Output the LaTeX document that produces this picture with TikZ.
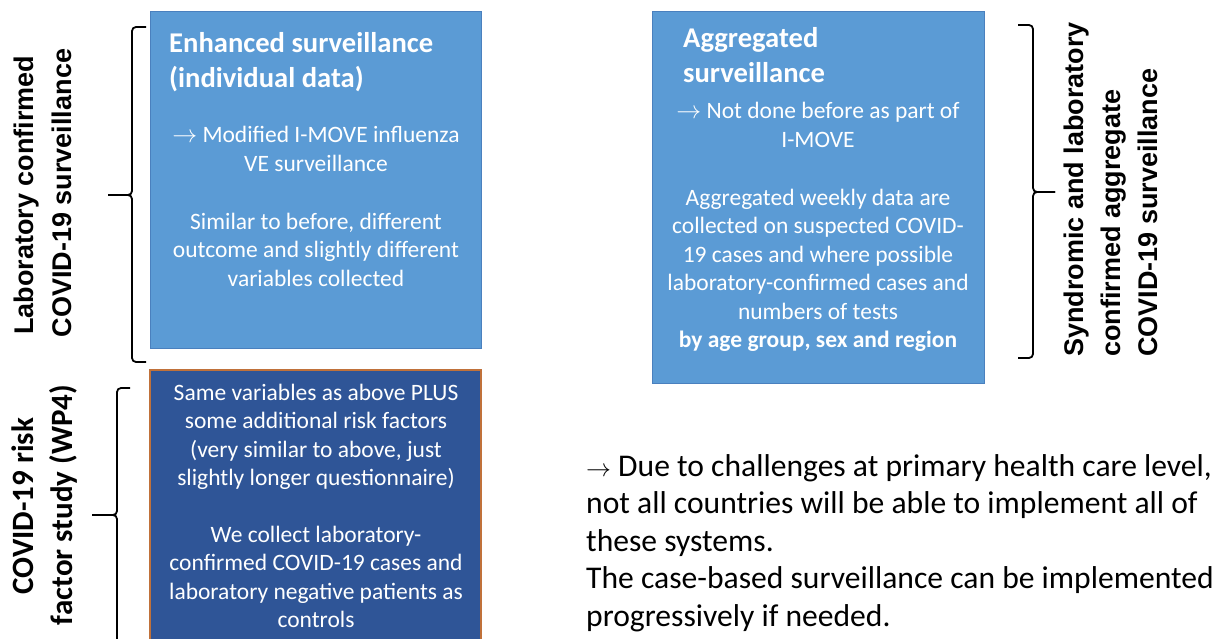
\documentclass[tikz,border=0pt]{standalone}
\usepackage{fontspec}
\setmainfont{Carlito}
\newfontfamily\arialfont{Liberation Sans}
\definecolor{lightbox}{HTML}{5B9BD5}
\definecolor{lightedge}{HTML}{4A80BE}
\definecolor{darkbox}{HTML}{2F5597}
\definecolor{darkedge}{HTML}{C0713A}
\tikzset{
  boxlight/.style={fill=lightbox,draw=lightedge,line width=1pt},
  boxdark/.style={fill=darkbox,draw=darkedge,line width=1.5pt},
  boxtitle/.style={text=white,inner sep=0pt,align=left,font=\fontsize{28.6}{35}\selectfont\bfseries},
  boxbody/.style={text=white,inner sep=0pt,align=center,font=\fontsize{23.5}{28.5}\selectfont},
  sidearial/.style={inner sep=0pt,rotate=90,font=\arialfont\bfseries\fontsize{27}{37.5}\selectfont},
  sidecal/.style={inner sep=0pt,rotate=90,font=\bfseries\fontsize{31}{37.5}\selectfont},
  bracepath/.style={draw=black,line width=1.8pt,rounded corners=4pt},
  note/.style={inner sep=0pt,align=left,font=\fontsize{31.6}{37.5}\selectfont}
}
\begin{document}
\begin{tikzpicture}[x=1pt,y=-1pt]
\useasboundingbox (0,0) rectangle (1222,639);
\clip (0,0) rectangle (1222,639);
\fill[white] (0,0) rectangle (1222,639);

% boxes
\path[boxlight] (150,12) rectangle (481,348);
\path[boxdark] (150,370) rectangle (481,660);
\path[boxlight] (652,12) rectangle (984,383);

% box 1 text (anchor base = baseline of last line)
\node[boxtitle,anchor=base west] (t1) at (169,88) {Enhanced surveillance\\(individual data)};
\node[boxbody,anchor=base] (b1a) at (316,171.5) {$\rightarrow$ Modified I-MOVE influenza\\VE surveillance};
\node[boxbody,anchor=base] (b1b) at (316,286) {Similar to before, different\\outcome and slightly different\\variables collected};

% box 2 text
\node[boxbody,anchor=base] (b2a) at (316,485.5) {Same variables as above PLUS\\some additional risk factors\\(very similar to above, just\\slightly longer questionnaire)};
\node[boxbody,anchor=base] (b2b) at (316,627.5) {We collect laboratory-\\confirmed COVID-19 cases and\\laboratory negative patients as\\controls};

% box 3 text
\node[boxtitle,anchor=base west] (t3) at (683,83) {Aggregated\\surveillance};
\node[boxbody,anchor=base] (b3a) at (818,147.5) {$\rightarrow$ Not done before as part of\\I-MOVE};
\node[boxbody,anchor=base] (b3b) at (818,347.5) {Aggregated weekly data are\\collected on suspected COVID-\\19 cases and where possible\\laboratory-confirmed cases and\\numbers of tests\\\textbf{by age group, sex and region}};

% braces
\draw[bracepath] (146,27) -- (132,27) -- (132,195) -- (108,195);
\draw[bracepath] (108,195) -- (132,195) -- (132,362) -- (146,362);
\draw[bracepath] (130,388) -- (117,388) -- (117,515) -- (92,515);
\draw[bracepath] (92,515) -- (117,515) -- (117,660);
\draw[bracepath] (1018,25) -- (1033,25) -- (1033,192) -- (1055,192);
\draw[bracepath] (1055,192) -- (1033,192) -- (1033,358) -- (1018,358);

% side labels
\node[sidearial,anchor=base] (l1a) at (33,195) {Laboratory confirmed};
\node[sidearial,anchor=base] (l1b) at (71,193) {COVID-19 surveillance};
\node[sidecal,anchor=base] (l2a) at (33,506) {COVID-19 risk};
\node[sidecal,anchor=base] (l2b) at (72,505) {factor study (WP4)};
\node[sidearial,anchor=base west] (r1) at (1083,357) {Syndromic and laboratory};
\node[sidearial,anchor=base west] (r2) at (1120,357) {confirmed aggregate};
\node[sidearial,anchor=base west] (r3) at (1157,357) {COVID-19 surveillance};

% note
\node[note,anchor=base west] (n) at (586,626) {$\rightarrow$ Due to challenges at primary health care level,\\not all countries will be able to implement all of\\these systems.\\The case-based surveillance can be implemented\\progressively if needed.};
\end{tikzpicture}
\end{document}
